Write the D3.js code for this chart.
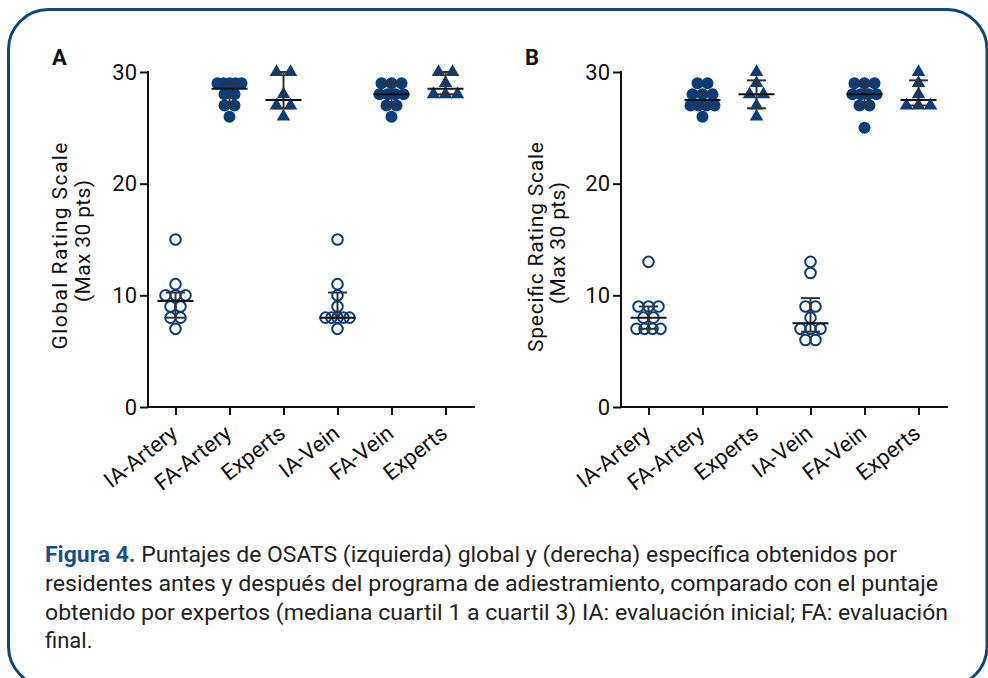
<!DOCTYPE html>
<html>
<head>
<meta charset="utf-8">
<script src="https://cdn.jsdelivr.net/npm/d3@7"></script>
<style>
  html, body { margin: 0; padding: 0; background: #fff; }
  svg { display: block; }
</style>
</head>
<body>
<div id="chart"></div>
<script>
// Group labels along the x axis (same for both panels)
const categories = ["IA-Artery", "FA-Artery", "Experts", "IA-Vein", "FA-Vein", "Experts"];
// Marker style of each group: open circle, filled circle, triangle
const markerKinds = ["open", "filled", "triangle", "open", "filled", "triangle"];
const yTicks = [0, 10, 20, 30];

// Panel A: Global Rating Scale scores
const globalIAArtery      = [15, 11, 10, 10, 10, 9, 9, 8, 8, 7];
const globalFAArtery      = [29, 29, 29, 29, 29, 28, 28, 27, 27, 26];
const globalExpertsArtery = [30, 30, 28, 27, 27, 26];
const globalIAVein        = [15, 11, 10, 9, 8, 8, 8, 8, 8, 7];
const globalFAVein        = [29, 29, 29, 28, 28, 28, 28, 27, 27, 26];
const globalExpertsVein   = [30, 30, 29, 28, 28, 28];

// Panel B: Specific Rating Scale scores
const specificIAArtery      = [13, 9, 9, 9, 8, 8, 7, 7, 7, 7];
const specificFAArtery      = [29, 29, 28, 28, 28, 27, 27, 27, 27, 26];
const specificExpertsArtery = [30, 29, 28, 28, 27, 26];
const specificIAVein        = [13, 12, 9, 9, 8, 7, 7, 7, 6, 6];
const specificFAVein        = [29, 29, 29, 28, 28, 28, 28, 27, 27, 25];
const specificExpertsVein   = [30, 29, 28, 27, 27, 27];

const captionBold = "Figura 4.";
const captionLines = [
  " Puntajes de OSATS (izquierda) global y (derecha) específica obtenidos por",
  "residentes antes y después del programa de adiestramiento, comparado con el puntaje",
  "obtenido por expertos (mediana cuartil 1 a cuartil 3) IA: evaluación inicial; FA: evaluación",
  "final."
];

const NAVY = "#0b3d7a";
const FONT = "Roboto, 'Open Sans', sans-serif";

const svg = d3.select("#chart").append("svg")
  .attr("width", 988).attr("height", 678);

// Rounded frame around the figure
svg.append("rect")
  .attr("x", 8.5).attr("y", 9.5).attr("width", 978.5).attr("height", 677)
  .attr("rx", 40).attr("ry", 40)
  .attr("fill", "none").attr("stroke", "#0e467f").attr("stroke-width", 3);

// Quartiles as interpolated (n+1)p order statistics
function quart(values, p) {
  const s = values.slice().sort((a, b) => a - b);
  const n = s.length;
  const pos = (n + 1) * p;
  if (pos <= 1) return s[0];
  if (pos >= n) return s[n - 1];
  const lo = Math.floor(pos), f = pos - lo;
  return s[lo - 1] + f * (s[lo] - s[lo - 1]);
}

// Spread tied values sideways so every dot stays visible
function spread(values, base) {
  const counts = d3.rollup(values, v => v.length, v => v);
  const seen = new Map();
  return values.map(v => {
    const k = counts.get(v);
    const i = seen.get(v) || 0;
    seen.set(v, i + 1);
    const step = k > 1 ? Math.min(base, 24 / (k - 1)) : 0;
    return { value: v, dx: (i - (k - 1) / 2) * step };
  });
}

const panels = [
  {
    letter: "A", letterX: 52, x0: 148,
    title: ["Global Rating Scale", "(Max 30 pts)"], titleX: [67, 90],
    titleLen: [207, 122], titleY: [246, 241],
    groups: [globalIAArtery, globalFAArtery, globalExpertsArtery,
             globalIAVein, globalFAVein, globalExpertsVein]
  },
  {
    letter: "B", letterX: 525, x0: 621,
    title: ["Specific Rating Scale", "(Max 30 pts)"], titleX: [543, 565],
    titleLen: [210, 122], titleY: [247, 243],
    groups: [specificIAArtery, specificFAArtery, specificExpertsArtery,
             specificIAVein, specificFAVein, specificExpertsVein]
  }
];

const y = d3.scaleLinear().domain([0, 30]).range([407, 72]);
const triangle = d3.symbol().type(d3.symbolTriangle).size(80);

panels.forEach(p => {
  const g = svg.append("g");
  const x = d3.scalePoint().domain(d3.range(categories.length))
    .range([p.x0 + 27.5, p.x0 + 297.5]);

  // Panel letter
  g.append("text").attr("x", p.letterX).attr("y", 65)
    .attr("font-family", FONT).attr("font-weight", 700).attr("font-size", 22)
    .attr("fill", "#111").text(p.letter);

  // Y axis
  const ya = g.append("g").attr("transform", `translate(${p.x0},0)`)
    .call(d3.axisLeft(y).tickValues(yTicks).tickSize(8).tickSizeOuter(0).tickPadding(3));
  ya.select(".domain").remove();
  ya.selectAll(".tick line").attr("stroke", "#111").attr("stroke-width", 2);
  ya.selectAll(".tick text").attr("font-family", FONT).attr("font-size", 22)
    .attr("fill", "#111");

  // X axis
  const xa = g.append("g").attr("transform", "translate(0,407)")
    .call(d3.axisBottom(x).tickSize(8).tickSizeOuter(0).tickFormat(i => categories[i]));
  xa.select(".domain").remove();
  xa.selectAll(".tick line").attr("stroke", "#111").attr("stroke-width", 2);
  xa.selectAll(".tick text")
    .attr("font-family", FONT).attr("font-size", 22).attr("fill", "#111")
    .attr("text-anchor", "end")
    .attr("x", 0).attr("y", 0).attr("dy", 0)
    .attr("transform", "translate(3,29) rotate(-38)");

  // Axis lines
  g.append("path")
    .attr("d", `M${p.x0},${y(30)}V${y(0)}H${p.x0 + 326}`)
    .attr("fill", "none").attr("stroke", "#111").attr("stroke-width", 2)
    .attr("stroke-linecap", "square");

  // Y axis title, two lines
  p.title.forEach((t, i) => {
    g.append("text")
      .attr("transform", `translate(${p.titleX[i]},${p.titleY[i]}) rotate(-90)`)
      .attr("font-family", FONT).attr("font-size", 21).attr("fill", "#111")
      .attr("text-anchor", "middle")
      .attr("textLength", p.titleLen[i]).attr("lengthAdjust", "spacing")
      .text(t);
  });

  // Data points
  p.groups.forEach((vals, gi) => {
    const kind = markerKinds[gi];
    const cx = x(gi);
    const pts = spread(vals, kind === "triangle" ? 14 : 10);
    const layer = g.append("g");
    if (kind === "triangle") {
      layer.selectAll("path").data(pts).join("path")
        .attr("d", triangle)
        .attr("transform", d => `translate(${cx + d.dx},${y(d.value)})`)
        .attr("fill", NAVY);
    } else {
      layer.selectAll("circle").data(pts).join("circle")
        .attr("cx", d => cx + d.dx).attr("cy", d => y(d.value))
        .attr("r", kind === "open" ? 5.3 : 6)
        .attr("fill", kind === "open" ? "none" : NAVY)
        .attr("stroke", NAVY).attr("stroke-width", kind === "open" ? 2 : 0);
    }

    // Median with interquartile range
    const med = d3.median(vals), q1 = quart(vals, 0.25), q3 = quart(vals, 0.75);
    const bars = g.append("g").attr("stroke-width", 2);
    bars.append("line").attr("x1", cx).attr("x2", cx)
      .attr("y1", y(q1)).attr("y2", y(q3)).attr("stroke", "#333");
    [q1, q3].forEach(q => bars.append("line")
      .attr("x1", cx - 9.5).attr("x2", cx + 9.5)
      .attr("y1", y(q)).attr("y2", y(q)).attr("stroke", "#333"));
    bars.append("line").attr("x1", cx - 18).attr("x2", cx + 18)
      .attr("y1", y(med)).attr("y2", y(med)).attr("stroke", "#111");
  });
});

// Caption
const capFont = 22;
const capTargets = [852, 893, 903, null];
const capBase = [562, 591, 620, 648];
captionLines.forEach((line, i) => {
  const t = svg.append("text")
    .attr("x", 45).attr("y", capBase[i])
    .attr("font-family", FONT).attr("font-size", capFont).attr("fill", "#222");
  if (i === 0) {
    t.append("tspan").attr("font-weight", 700).attr("fill", "#1b4f8c").text(captionBold);
    t.append("tspan").text(line);
  } else {
    t.text(line);
  }
  if (capTargets[i]) {
    t.attr("textLength", capTargets[i]).attr("lengthAdjust", "spacingAndGlyphs");
  }
});
</script>
</body>
</html>
